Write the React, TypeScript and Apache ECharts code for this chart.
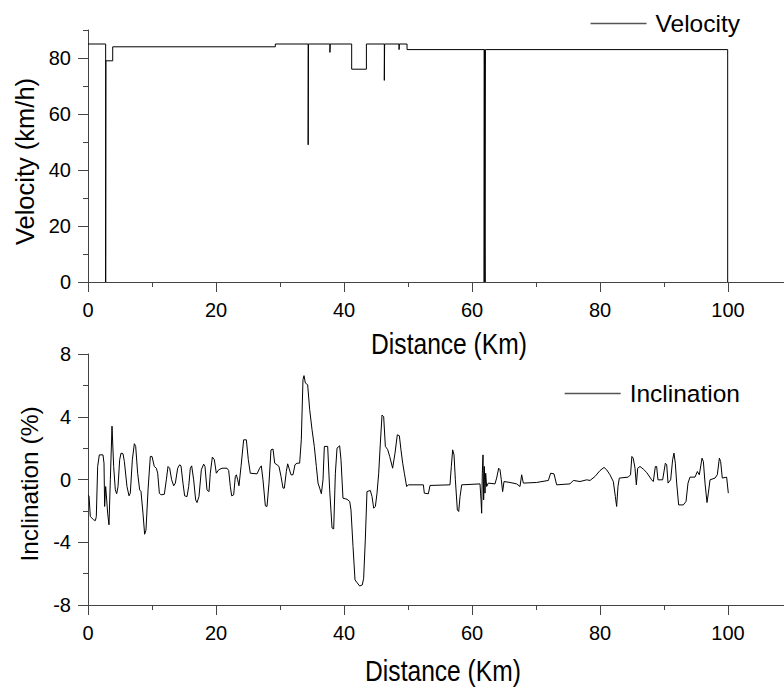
import React, { useEffect, useRef } from "react";
import * as echarts from "echarts";

// ---- data ----
const velDist = [0, 2.76, 2.76, 2.8, 2.8, 3.86, 3.86, 29.27, 29.27, 34.4, 34.4, 34.45, 34.45, 37.8, 37.8, 37.85, 37.85, 41.2, 41.2, 43.5, 43.5, 46.3, 46.3, 46.35, 46.35, 48.6, 48.6, 48.65, 48.65, 49.85, 49.85, 61.9, 61.9, 61.95, 61.95, 62.0, 62.0, 62.05, 62.05, 62.1, 62.1, 99.95, 99.95];
const velValue = [85, 85, 0, 0, 79, 79, 84, 84, 85, 85, 49, 49, 85, 85, 82, 82, 85, 85, 76, 76, 85, 85, 72, 72, 85, 85, 83, 83, 85, 85, 83, 83, 0, 0, 83, 83, 15, 15, 0, 0, 83, 83, 0];

const inclDist = [
  0, 0.16, 0.36, 0.63, 0.89, 1.15, 1.3, 1.51, 1.77, 2.03, 2.34, 2.5, 2.6, 2.76, 2.92, 3.07, 3.28, 3.49, 3.75, 4.01,
  4.27, 4.48, 4.69, 4.95, 5.16, 5.47, 5.68, 6.09, 6.41, 6.61, 6.93, 7.24, 7.45, 7.76, 8.07, 8.28, 8.59, 8.85, 9.06, 9.38,
  9.74, 10.0, 10.36, 10.68, 10.89, 11.15, 11.41, 11.93, 12.24, 12.5, 12.76, 13.07, 13.39, 13.65, 14.01, 14.32, 14.53, 14.84, 15.1, 15.47,
  15.73, 15.99, 16.2, 16.51, 16.82, 17.03, 17.34, 17.71, 18.07, 18.28, 18.59, 18.91, 19.11, 19.43, 19.74, 20.05, 20.42, 20.94, 21.72, 21.98,
  22.24, 22.45, 22.76, 23.02, 23.18, 23.39, 23.59, 23.91, 24.32, 24.74, 25.05, 25.36, 26.41, 26.82, 27.08, 27.34, 27.71, 27.97, 28.28, 28.59,
  28.91, 29.17, 29.53, 29.84, 30.16, 30.47, 30.68, 30.99, 31.2, 31.41, 31.72, 32.03, 32.34, 32.66, 33.07, 33.33, 33.59, 33.75, 33.96, 34.32,
  34.64, 35.0, 35.36, 35.68, 35.94, 36.2, 36.46, 36.72, 36.93, 37.45, 37.76, 38.13, 38.39, 38.65, 38.91, 39.32, 39.53, 39.84, 40.47, 40.89,
  41.09, 41.41, 41.72, 42.03, 42.45, 42.86, 43.07, 43.33, 43.59, 44.11, 44.38, 44.64, 44.9, 45.16, 45.42, 45.68, 45.94, 46.2, 46.46, 46.82,
  47.14, 47.6, 47.97, 48.33, 48.65, 48.9, 49.17, 49.43, 49.79, 50.05, 52.4, 52.55, 53.18, 53.44, 56.56, 56.77, 56.98, 57.19, 57.4, 57.71,
  57.92, 58.13, 58.39, 61.25, 61.41, 61.51, 61.61, 61.72, 61.82, 61.93, 62.03, 62.14, 62.29, 62.55, 63.59, 63.85, 64.17, 64.38, 64.58, 64.79,
  65.0, 65.94, 66.98, 67.5, 67.76, 68.02, 70.1, 71.93, 72.29, 72.81, 73.23, 75.31, 75.83, 76.88, 77.92, 78.44, 79.22, 80.0, 80.63, 81.04,
  81.56, 82.08, 82.4, 82.6, 82.81, 83.02, 84.4, 84.77, 84.98, 85.19, 85.47, 85.68, 85.89, 86.25, 86.77, 87.29, 88.07, 88.33, 88.65, 88.85,
  89.06, 89.79, 90.21, 90.42, 90.63, 91.04, 91.35, 91.56, 91.77, 91.98, 92.29, 93.02, 93.44, 93.75, 94.06, 94.84, 95.21, 95.52, 95.94, 96.15,
  96.41, 96.72, 96.93, 97.19, 97.97, 98.33, 98.65, 98.85, 99.11, 99.79, 100.05,
];
const inclValue = [
  -1.0, -1.06, -2.36, -2.47, -2.57, -2.62, -2.36, 0.83, 1.57, 1.57, 1.57, 1.04, -1.72, -0.45, -1.3, -2.15, -2.89, -0.02, 3.4, 0.83,
  -0.66, -0.91, -0.45, 1.26, 1.68, 1.64, 1.15, -0.45, -1.04, -0.87, 1.26, 2.28, 2.11, 0.4, -0.66, -0.77, -2.15, -3.49, -3.23, -0.66,
  1.47, 1.47, 0.83, 0.72, 0.4, -0.87, -0.98, -0.94, -0.02, 0.83, 0.72, -0.02, -0.4, -0.23, 0.72, 0.94, 0.87, -0.23, -1.04, -1.09,
  -0.45, 0.72, 0.87, -0.02, -1.3, -1.47, -1.09, 0.62, 0.98, 0.83, -0.66, -0.77, 0.4, 1.43, 1.26, 0.4, 0.62, 0.72, 0.72, 0.57,
  -0.45, -1.04, -0.98, 0.19, 0.3, -0.02, -0.4, 0.83, 2.53, 2.53, 1.26, 0.4, 0.36, 0.72, 0.87, -0.02, -1.68, -1.72, -0.23, 1.89,
  1.94, 1.04, 0.94, 0.83, 0.19, -0.55, -0.55, 0.51, 1.0, 0.72, 0.3, 0.3, 0.94, 1.04, 1.04, 2.53, 6.36, 6.62, 6.15, 6.04,
  4.45, 3.19, 2.11, 0.83, -0.23, -0.55, -0.91, -0.02, 2.11, 2.11, -0.66, -3.09, -3.15, 0.4, 2.0, 2.15, 1.26, -1.19, -1.26, -1.4,
  -1.94, -4.28, -6.4, -6.57, -6.79, -6.72, -6.3, -3.85, -0.77, -0.7, -1.09, -1.83, -1.72, -0.87, 0.4, 2.32, 4.11, 4.0, 2.11, 1.91,
  1.47, 0.72, 1.68, 2.85, 2.79, 1.89, 1.04, 0.4, -0.45, -0.34, -0.34, -0.87, -0.91, -0.38, -0.34, 0.83, 1.89, 1.57, -0.02, -1.94,
  -2.04, -1.09, -0.34, -0.28, -1.3, -2.15, 0.4, 1.57, -1.3, 0.83, -0.87, 0.4, -0.45, -0.23, -0.28, 0.09, 0.72, 0.62, -0.02, -0.77,
  -0.13, -0.19, -0.28, -0.45, 0.3, -0.23, -0.19, -0.06, 0.4, 0.36, -0.34, -0.28, -0.06, -0.13, -0.02, -0.06, 0.19, 0.57, 0.77, 0.62,
  0.3, -0.13, -1.09, -1.72, -0.45, 0.09, 0.15, 0.3, 1.47, 1.36, 0.72, -0.34, 0.72, 0.83, 0.66, 0.45, -0.02, -0.13, 0.83, 0.83,
  -0.02, -0.02, 1.04, 0.94, -0.23, -0.02, 1.26, 1.68, 1.04, -0.23, -1.62, -1.62, -1.4, -0.23, 0.15, 0.15, 0.51, 0.3, 1.36, 1.15,
  -0.23, -1.47, -0.87, -0.02, 0.09, 0.3, 1.36, 1.15, 0.09, 0.15, -0.87,
];

const xMajorTicks = [0, 20, 40, 60, 80, 100];
const xMinorTicks = [10, 30, 50, 70, 90];
const velMajorTicks = [0, 20, 40, 60, 80];
const velMinorTicks = [10, 30, 50, 70, 90];
const inclMajorTicks = [-8, -4, 0, 4, 8];
const inclMinorTicks = [-6, -2, 2, 6];

const FONT = "'Liberation Sans', Arial, sans-serif";
const AXIS = "#444";
const X_MAX = 108.75;

function pairs(xs: number[], ys: number[]) {
  return xs.map((x, i) => [x, ys[i]]);
}

function xMajor(grid: number) {
  return {
    gridIndex: grid, type: "value", min: 0, max: X_MAX, position: "bottom",
    axisLine: { show: true, onZero: false, lineStyle: { color: AXIS, width: 1 } },
    axisTick: { show: true, length: 10, customValues: xMajorTicks, lineStyle: { color: AXIS, width: 1 } },
    axisLabel: { customValues: xMajorTicks, margin: 18, fontSize: 20, color: "#000", fontFamily: FONT },
    splitLine: { show: false },
  };
}
function xMinor(grid: number) {
  return {
    gridIndex: grid, type: "value", min: 0, max: X_MAX, position: "bottom",
    axisLine: { show: false, onZero: false },
    axisTick: { show: true, length: 5, customValues: xMinorTicks, lineStyle: { color: AXIS, width: 1 } },
    axisLabel: { show: false }, splitLine: { show: false },
  };
}
function yMajor(grid: number, min: number, max: number, ticks: number[], name: string, size: number, pad: number[]) {
  return {
    gridIndex: grid, type: "value", min, max, position: "left",
    axisLine: { show: true, onZero: false, lineStyle: { color: AXIS, width: 1 } },
    axisTick: { show: true, length: 10, customValues: ticks, lineStyle: { color: AXIS, width: 1 } },
    axisLabel: { customValues: ticks, margin: 17, fontSize: 20, color: "#000", fontFamily: FONT },
    splitLine: { show: false },
    name, nameLocation: "middle", nameGap: 46,
    nameTextStyle: { fontFamily: FONT, fontSize: size, color: "#000", padding: pad },
  };
}
function yMinor(grid: number, min: number, max: number, ticks: number[]) {
  return {
    gridIndex: grid, type: "value", min, max, position: "left",
    axisLine: { show: false, onZero: false },
    axisTick: { show: true, length: 5, customValues: ticks, lineStyle: { color: AXIS, width: 1 } },
    axisLabel: { show: false }, splitLine: { show: false },
  };
}
function legend(name: string, top: number) {
  return {
    data: [name], right: 44, top, padding: 0, icon: "rect", itemWidth: 56, itemHeight: 1.5,
    itemStyle: { color: "#555" },
    textStyle: { fontFamily: FONT, fontSize: 24.5, color: "#000", padding: [0, 0, 0, 4] },
  };
}
function xTitle(cx: number, top: number) {
  return {
    type: "group", x: cx, y: top, scaleX: 0.82, silent: true,
    children: [
      {
        type: "text",
        style: {
          text: "Distance (Km)", x: 0, y: 0, fontSize: 30, fontFamily: FONT, fill: "#000",
          align: "center", verticalAlign: "top", textAlign: "center", textVerticalAlign: "top",
        },
      },
    ],
  };
}

export default function App() {
  const ref = useRef<HTMLDivElement>(null);
  useEffect(() => {
    const chart = echarts.init(ref.current!, null, { renderer: "svg" });
    chart.setOption({
      animation: false,
      backgroundColor: "#fff",
      grid: [
        { left: 88, right: 0, top: 30, height: 252 },
        { left: 88, right: 0, top: 354, height: 251 },
      ],
      legend: [legend("Velocity", 11), legend("Inclination", 381)],
      xAxis: [xMajor(0), xMinor(0), xMajor(1), xMinor(1)],
      yAxis: [
        yMajor(0, 0, 90, velMajorTicks, "Velocity (km/h)", 25.5, [0, 11, 0, 0]),
        yMinor(0, 0, 90, velMinorTicks),
        yMajor(1, -8, 8, inclMajorTicks, "Inclination (%)", 24.5, [0, 9, 0, 0]),
        yMinor(1, -8, 8, inclMinorTicks),
      ],
      graphic: [xTitle(449, 329), xTitle(443, 656)],
      series: [
        {
          name: "Velocity", type: "line", xAxisIndex: 0, yAxisIndex: 0,
          data: pairs(velDist, velValue), showSymbol: false, symbol: "none",
          lineStyle: { color: "#000", width: 1 }, itemStyle: { color: "#000" },
        },
        {
          name: "Inclination", type: "line", xAxisIndex: 2, yAxisIndex: 2,
          data: pairs(inclDist, inclValue), showSymbol: false, symbol: "none",
          lineStyle: { color: "#000", width: 1 }, itemStyle: { color: "#000" },
        },
      ],
    });
    return () => chart.dispose();
  }, []);
  return (
    <div
      ref={ref}
      style={{ position: "fixed", left: 0, top: 0, width: 784, height: 689, background: "#fff" }}
    />
  );
}
